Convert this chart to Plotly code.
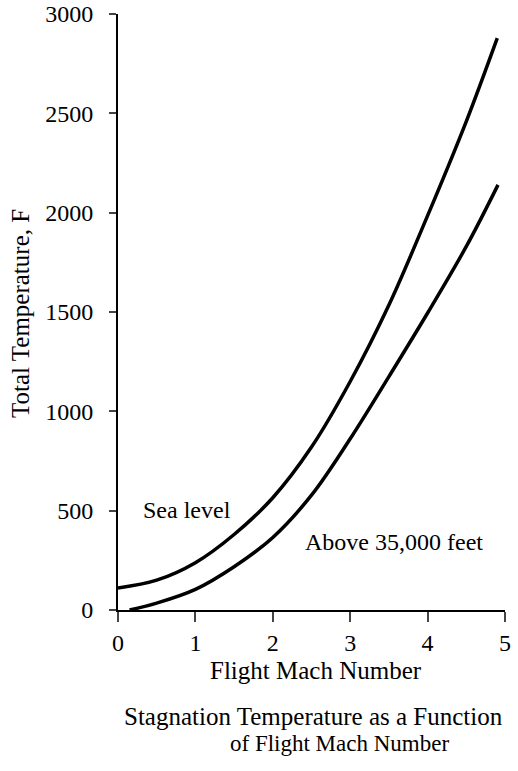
import plotly.graph_objects as go

# Data
mach_sea = [0.0, 0.5, 1.0, 1.5, 2.0, 2.5, 3.0, 3.5, 4.0, 4.5, 4.9]
temp_sea = [111, 150, 238, 380, 565, 820, 1150, 1535, 1985, 2460, 2879]

mach_alt = [0.15, 0.5, 1.0, 1.5, 2.0, 2.5, 3.0, 3.5, 4.0, 4.5, 4.91]
temp_alt = [0, 35, 104, 218, 365, 578, 862, 1175, 1495, 1830, 2140]

x_ticks = [0, 1, 2, 3, 4, 5]
y_ticks = [0, 500, 1000, 1500, 2000, 2500, 3000]

FONT = "Liberation Serif, Times New Roman, serif"
FS = 24

fig = go.Figure()
for mx, ty, nm in [(mach_sea, temp_sea, "Sea level"), (mach_alt, temp_alt, "Above 35,000 feet")]:
    fig.add_trace(go.Scatter(x=mx, y=ty, mode="lines",
                             line=dict(color="black", width=3.5, shape="spline", smoothing=1.0),
                             name=nm, showlegend=False, hoverinfo="skip"))

ann = dict(showarrow=False, xanchor="center", yanchor="middle")
fig.update_layout(
    width=518, height=771,
    margin=dict(l=118, r=13, t=14, b=161),
    paper_bgcolor="white", plot_bgcolor="white",
    font=dict(family=FONT, size=FS, color="black"),
    xaxis=dict(range=[0, 5], tickvals=x_ticks, ticks="outside", ticklen=10, tickwidth=2,
               showline=True, linecolor="black", linewidth=2, showgrid=False, zeroline=False,
               tickfont=dict(size=FS), automargin=False, ticklabelstandoff=0,
               ticklabeloverflow="allow"),
    yaxis=dict(range=[0, 3000], tickvals=y_ticks, ticks="outside", ticklen=7, tickwidth=2,
               showline=True, linecolor="black", linewidth=2, showgrid=False, zeroline=False,
               tickfont=dict(size=FS), ticklabelstandoff=11, automargin=False,
               ticklabeloverflow="allow"),
    annotations=[
        dict(x=0.89, y=503, xref="x", yref="y", text="Sea level", font=dict(size=FS), **ann),
        dict(x=3.57, y=342, xref="x", yref="y", text="Above 35,000 feet", font=dict(size=FS), **ann),
        dict(x=-0.2532, y=0.4966, xref="paper", yref="paper", textangle=-90,
             text="Total Temperature, F", font=dict(size=25), **ann),
        dict(x=0.5116, y=-0.1023, xref="paper", yref="paper",
             text="Flight Mach Number", font=dict(size=25), **ann),
        dict(x=0.504, y=-0.1779, xref="paper", yref="paper",
             text="Stagnation Temperature as a Function", font=dict(size=25), **ann),
        dict(x=0.5736, y=-0.2232, xref="paper", yref="paper",
             text="of Flight Mach Number", font=dict(size=23), **ann),
    ],
)

fig.write_html("out.html", config={"displayModeBar": False},
               post_script="document.body.style.margin='0';")
